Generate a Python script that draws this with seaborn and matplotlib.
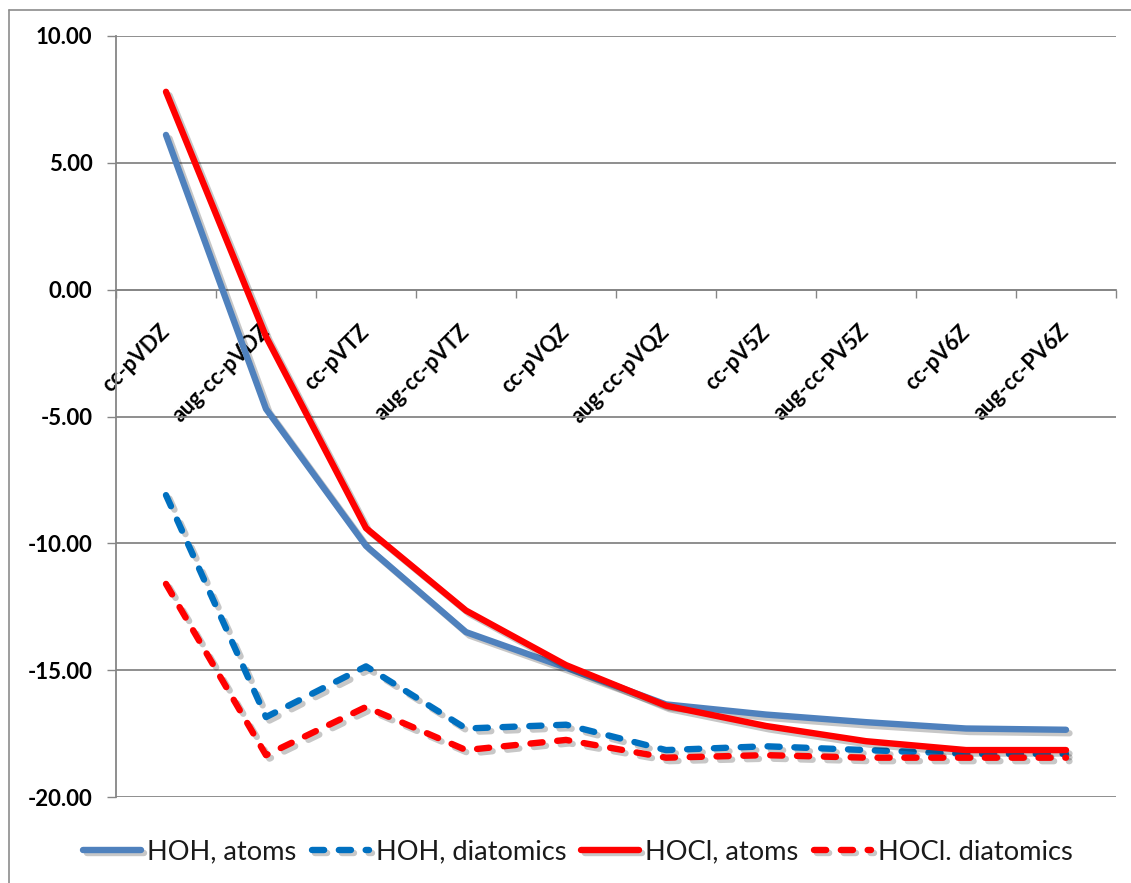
import numpy as np
import pandas as pd
import matplotlib
matplotlib.use("Agg")
import matplotlib.pyplot as plt
import matplotlib.patheffects as pe
from matplotlib.lines import Line2D
import seaborn as sns

# Basis sets along the x axis
basis_sets = ["cc-pVDZ", "aug-cc-pVDZ", "cc-pVTZ", "aug-cc-pVTZ", "cc-pVQZ",
              "aug-cc-pVQZ", "cc-pV5Z", "aug-cc-PV5Z", "cc-pV6Z", "aug-cc-PV6Z"]

# Energy differences for each reference scheme
hoh_atoms = [6.10, -4.70, -10.10, -13.50, -14.90, -16.35, -16.75, -17.05, -17.30, -17.35]
hoh_diatomics = [-8.10, -16.85, -14.85, -17.30, -17.15, -18.15, -18.00, -18.15, -18.30, -18.30]
hocl_atoms = [7.80, -1.85, -9.40, -12.65, -14.80, -16.40, -17.20, -17.80, -18.15, -18.15]
hocl_diatomics = [-11.60, -18.35, -16.45, -18.15, -17.75, -18.45, -18.35, -18.45, -18.45, -18.45]

series_names = ["HOH, atoms", "HOH, diatomics", "HOCl, atoms", "HOCl. diatomics"]
series_values = [hoh_atoms, hoh_diatomics, hocl_atoms, hocl_diatomics]
series_colors = ["#4F81BD", "#0070C0", "#FF0000", "#FF0000"]
series_dashed = [False, True, False, True]

y_ticks = [10, 5, 0, -5, -10, -15, -20]

sns.set_theme(style="white")
plt.rcParams["font.family"] = ["Lato", "DejaVu Sans"]

fig = plt.figure(figsize=(11.31, 8.83), dpi=100)
ax = fig.add_axes([116 / 1131, 1 - 797 / 883, 1000 / 1131, (797 - 36) / 883])

grid_color = "#868686"
pos = np.arange(len(basis_sets))

for name, vals, col, dashed in zip(series_names, series_values, series_colors, series_dashed):
    df = pd.DataFrame({"pos": pos, "value": vals})
    kw = dict(linestyle=(0, (1.9, 2.3)), dash_capstyle="round") if dashed else dict(linestyle="-")
    sns.lineplot(data=df, x="pos", y="value", ax=ax, color=col, lw=4.6,
                 label=name, solid_capstyle="round", solid_joinstyle="round",
                 path_effects=[pe.SimpleLineShadow(offset=(2.5, -2.5), shadow_color="black", alpha=0.22),
                               pe.Normal()],
                 zorder=3, **kw)

ax.set_xlim(-0.5, len(basis_sets) - 0.5)
ax.set_ylim(min(y_ticks), max(y_ticks))
ax.set_xlabel("")
ax.set_ylabel("")

# y axis: gridlines and formatted labels
ax.set_yticks(y_ticks, [f"{v:.2f}" for v in y_ticks])
ax.yaxis.grid(True, color=grid_color, lw=1.3)
ax.tick_params(axis="y", which="major", left=True, length=6.5, width=1, color=grid_color,
               pad=10.5, labelsize=16)
for lbl in ax.get_yticklabels():
    lbl.set_fontweight("bold")
    lbl.set_color("black")

# x axis crosses at zero; ticks at category boundaries, labels at centres
ax.spines["bottom"].set_position(("data", 0))
ax.spines["bottom"].set_color(grid_color)
ax.spines["bottom"].set_linewidth(1.3)
ax.spines["left"].set_color(grid_color)
ax.spines["left"].set_linewidth(1.3)
ax.spines["top"].set_visible(False)
ax.spines["right"].set_visible(False)

ax.set_xticks(np.arange(len(basis_sets) + 1) - 0.5, [""] * (len(basis_sets) + 1))
ax.set_xticks(pos, basis_sets, minor=True)
ax.tick_params(axis="x", which="major", bottom=True, length=6, width=1, color=grid_color)
ax.tick_params(axis="x", which="minor", bottom=True, length=0, pad=28, labelsize=15.5)
for lbl in ax.get_xticklabels(minor=True):
    lbl.set(rotation=45, ha="right", va="center", rotation_mode="anchor",
            fontweight="bold", color="black")

# legend below the plot
handles, labels = ax.get_legend_handles_labels()
ax.get_legend().remove()
fig.legend(handles, labels, loc="center", bbox_to_anchor=(578 / 1131, 1 - 852 / 883),
           ncol=4, frameon=False, fontsize=19.6, handlelength=2.1, handletextpad=0.25,
           columnspacing=0.55, labelcolor="#1a1a1a")

# chart border (left and top edges)
fig.add_artist(Line2D([9 / 1131, 9 / 1131], [0, 1 - 10 / 883], transform=fig.transFigure,
                      color="#8c8c8c", lw=1.2))
fig.add_artist(Line2D([9 / 1131, 1], [1 - 10 / 883, 1 - 10 / 883], transform=fig.transFigure,
                      color="#8c8c8c", lw=1.2))

fig.savefig("out.png", dpi=100)
